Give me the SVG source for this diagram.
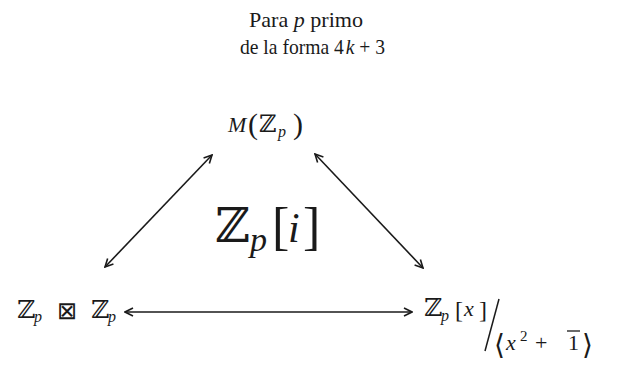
<svg xmlns="http://www.w3.org/2000/svg" width="618" height="368" viewBox="0 0 618 368">
<style>
text{font-family:"Liberation Serif","DejaVu Serif",serif;fill:#1a1a1a}
.it{font-style:italic}
.ds{font-family:"DejaVu Serif",serif}
.sym{font-family:"DejaVu Sans",sans-serif}
.conn line{stroke:#1a1a1a;stroke-width:1.6;fill:none;marker-start:url(#ah);marker-end:url(#ah)}
</style>
<defs>
<marker id="ah" viewBox="0 0 10 10" refX="9" refY="5" markerWidth="10" markerHeight="10" markerUnits="userSpaceOnUse" orient="auto-start-reverse">
<path d="M1,1 L9,5 L1,9" fill="none" stroke="#1a1a1a" stroke-width="1.6"/>
</marker>
</defs>
<g id="title">
<text x="249" y="27" font-size="21" textLength="114" lengthAdjust="spacingAndGlyphs">Para <tspan class="it">p</tspan> primo</text>
<text x="240" y="54" font-size="21" textLength="145" lengthAdjust="spacingAndGlyphs">de la forma 4<tspan class="it" dx="2">k</tspan> + 3</text>
</g>
<g id="node-top">
<text x="228" y="132" font-size="22" class="it">M</text>
<text x="248" y="134" font-size="30">(</text>
<text x="259" y="132" font-size="24" class="ds">ℤ</text>
<text x="278" y="137" font-size="16" class="it">p</text>
<text x="293" y="134" font-size="30">)</text>
</g>
<g id="node-center">
<text x="215" y="242" font-size="48" class="ds">ℤ</text>
<text x="250" y="251" font-size="34" class="it">p</text>
<text x="272" y="244" font-size="52">[</text>
<text x="288" y="242" font-size="42" class="it">i</text>
<text x="303" y="244" font-size="52">]</text>
</g>
<g id="node-left">
<text x="17" y="318" font-size="25" class="ds">ℤ</text>
<text x="34" y="322" font-size="16" class="it">p</text>
<text x="57" y="319" font-size="24" class="sym">⊠</text>
<text x="91" y="318" font-size="25" class="ds">ℤ</text>
<text x="108" y="322" font-size="16" class="it">p</text>
</g>
<g id="node-right">
<text x="424" y="316" font-size="25" class="ds">ℤ</text>
<text x="441" y="321" font-size="16" class="it">p</text>
<text x="455" y="318" font-size="24">[</text>
<text x="464" y="316" font-size="22" class="it">x</text>
<text x="479" y="318" font-size="24">]</text>
<line x1="499" y1="299" x2="485" y2="351" stroke="#1a1a1a" stroke-width="1.5"/>
<text x="494" y="354" font-size="28" class="sym">⟨</text>
<text x="506" y="350" font-size="22" class="it">x</text>
<text x="520" y="341" font-size="15">2</text>
<text x="535" y="350" font-size="22">+</text>
<text x="568" y="350" font-size="22">1</text>
<line x1="567" y1="331" x2="580" y2="331" stroke="#1a1a1a" stroke-width="1.3"/>
<text x="582" y="354" font-size="28" class="sym">⟩</text>
</g>
<g id="connectors" class="conn">
<line x1="105" y1="267" x2="212" y2="155"/>
<line x1="315" y1="154" x2="423" y2="268"/>
<line x1="125" y1="312" x2="412" y2="312"/>
</g>
</svg>
